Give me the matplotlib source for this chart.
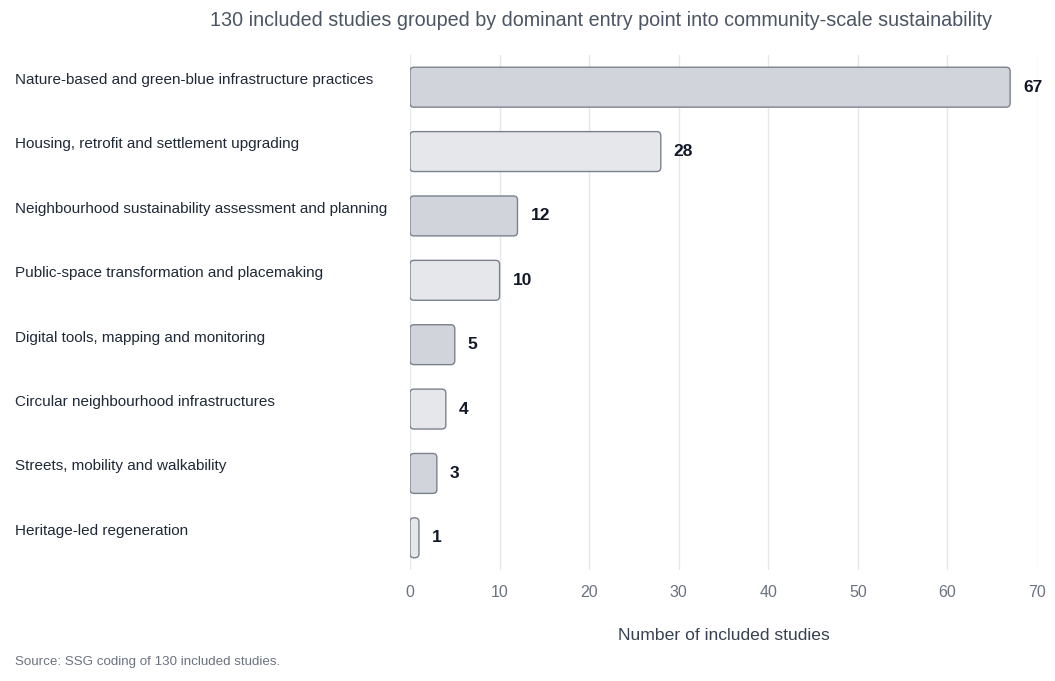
import numpy as np
import matplotlib
matplotlib.use('Agg')
import matplotlib.pyplot as plt
from matplotlib.patches import FancyBboxPatch
from matplotlib.transforms import blended_transform_factory

plt.rcParams['font.family'] = ['Liberation Sans', 'DejaVu Sans']

categories = ['Nature-based and green-blue infrastructure practices',
              'Housing, retrofit and settlement upgrading',
              'Neighbourhood sustainability assessment and planning',
              'Public-space transformation and placemaking',
              'Digital tools, mapping and monitoring',
              'Circular neighbourhood infrastructures',
              'Streets, mobility and walkability',
              'Heritage-led regeneration']
counts = [67, 28, 12, 10, 5, 4, 3, 1]
xticks = [0, 10, 20, 30, 40, 50, 60, 70]

fig = plt.figure(figsize=(10.55, 6.81), dpi=100)
ax = fig.add_axes([410/1055, 111/681, 627/1055, 515/681])

bar_h = 0.62
px_x = 627 / 70.0
px_y = 515 / 8.0
for i, v in enumerate(counts):
    fc = '#d1d5db' if i % 2 == 0 else '#e5e7eb'
    r = 4.0 / px_x
    box = FancyBboxPatch((0, i - bar_h/2), v, bar_h,
                         boxstyle='round,pad=0,rounding_size=%f' % min(r, v/2.2),
                         mutation_aspect=px_x/px_y,
                         facecolor=fc, edgecolor='#7b818c', linewidth=1.0, zorder=3)
    ax.add_patch(box)
    ax.text(v + 1.45, i, str(v), va='center', ha='left', fontsize=12.5,
            fontweight='bold', color='#111827', zorder=4)

ax.set_xlim(0, 70)
ax.set_ylim(7.5, -0.5)
ax.set_xticks(xticks)
ax.set_yticks([])
ax.grid(axis='x', color='#e5e7eb', linewidth=1, zorder=0)
ax.set_axisbelow(True)
for s in ax.spines.values():
    s.set_visible(False)
ax.tick_params(axis='x', length=0, pad=11, labelsize=11.5, labelcolor='#6b7280')
ax.set_xlabel('Number of included studies', fontsize=12.6, color='#374151', labelpad=20)

trans = blended_transform_factory(fig.transFigure, ax.transData)
for i, c in enumerate(categories):
    ax.text(15/1055, i - 0.11, c, transform=trans, ha='left', va='center',
            fontsize=11, color='#1f2937')

fig.text(601/1055, 1 - 20/681, '130 included studies grouped by dominant entry point into community-scale sustainability',
         ha='center', va='center', fontsize=14.2, color='#4b5563')
fig.text(15/1055, 1 - 662/681, 'Source: SSG coding of 130 included studies.',
         ha='left', va='center', fontsize=9.6, color='#6b7280')

fig.savefig('out.png', dpi=100)
